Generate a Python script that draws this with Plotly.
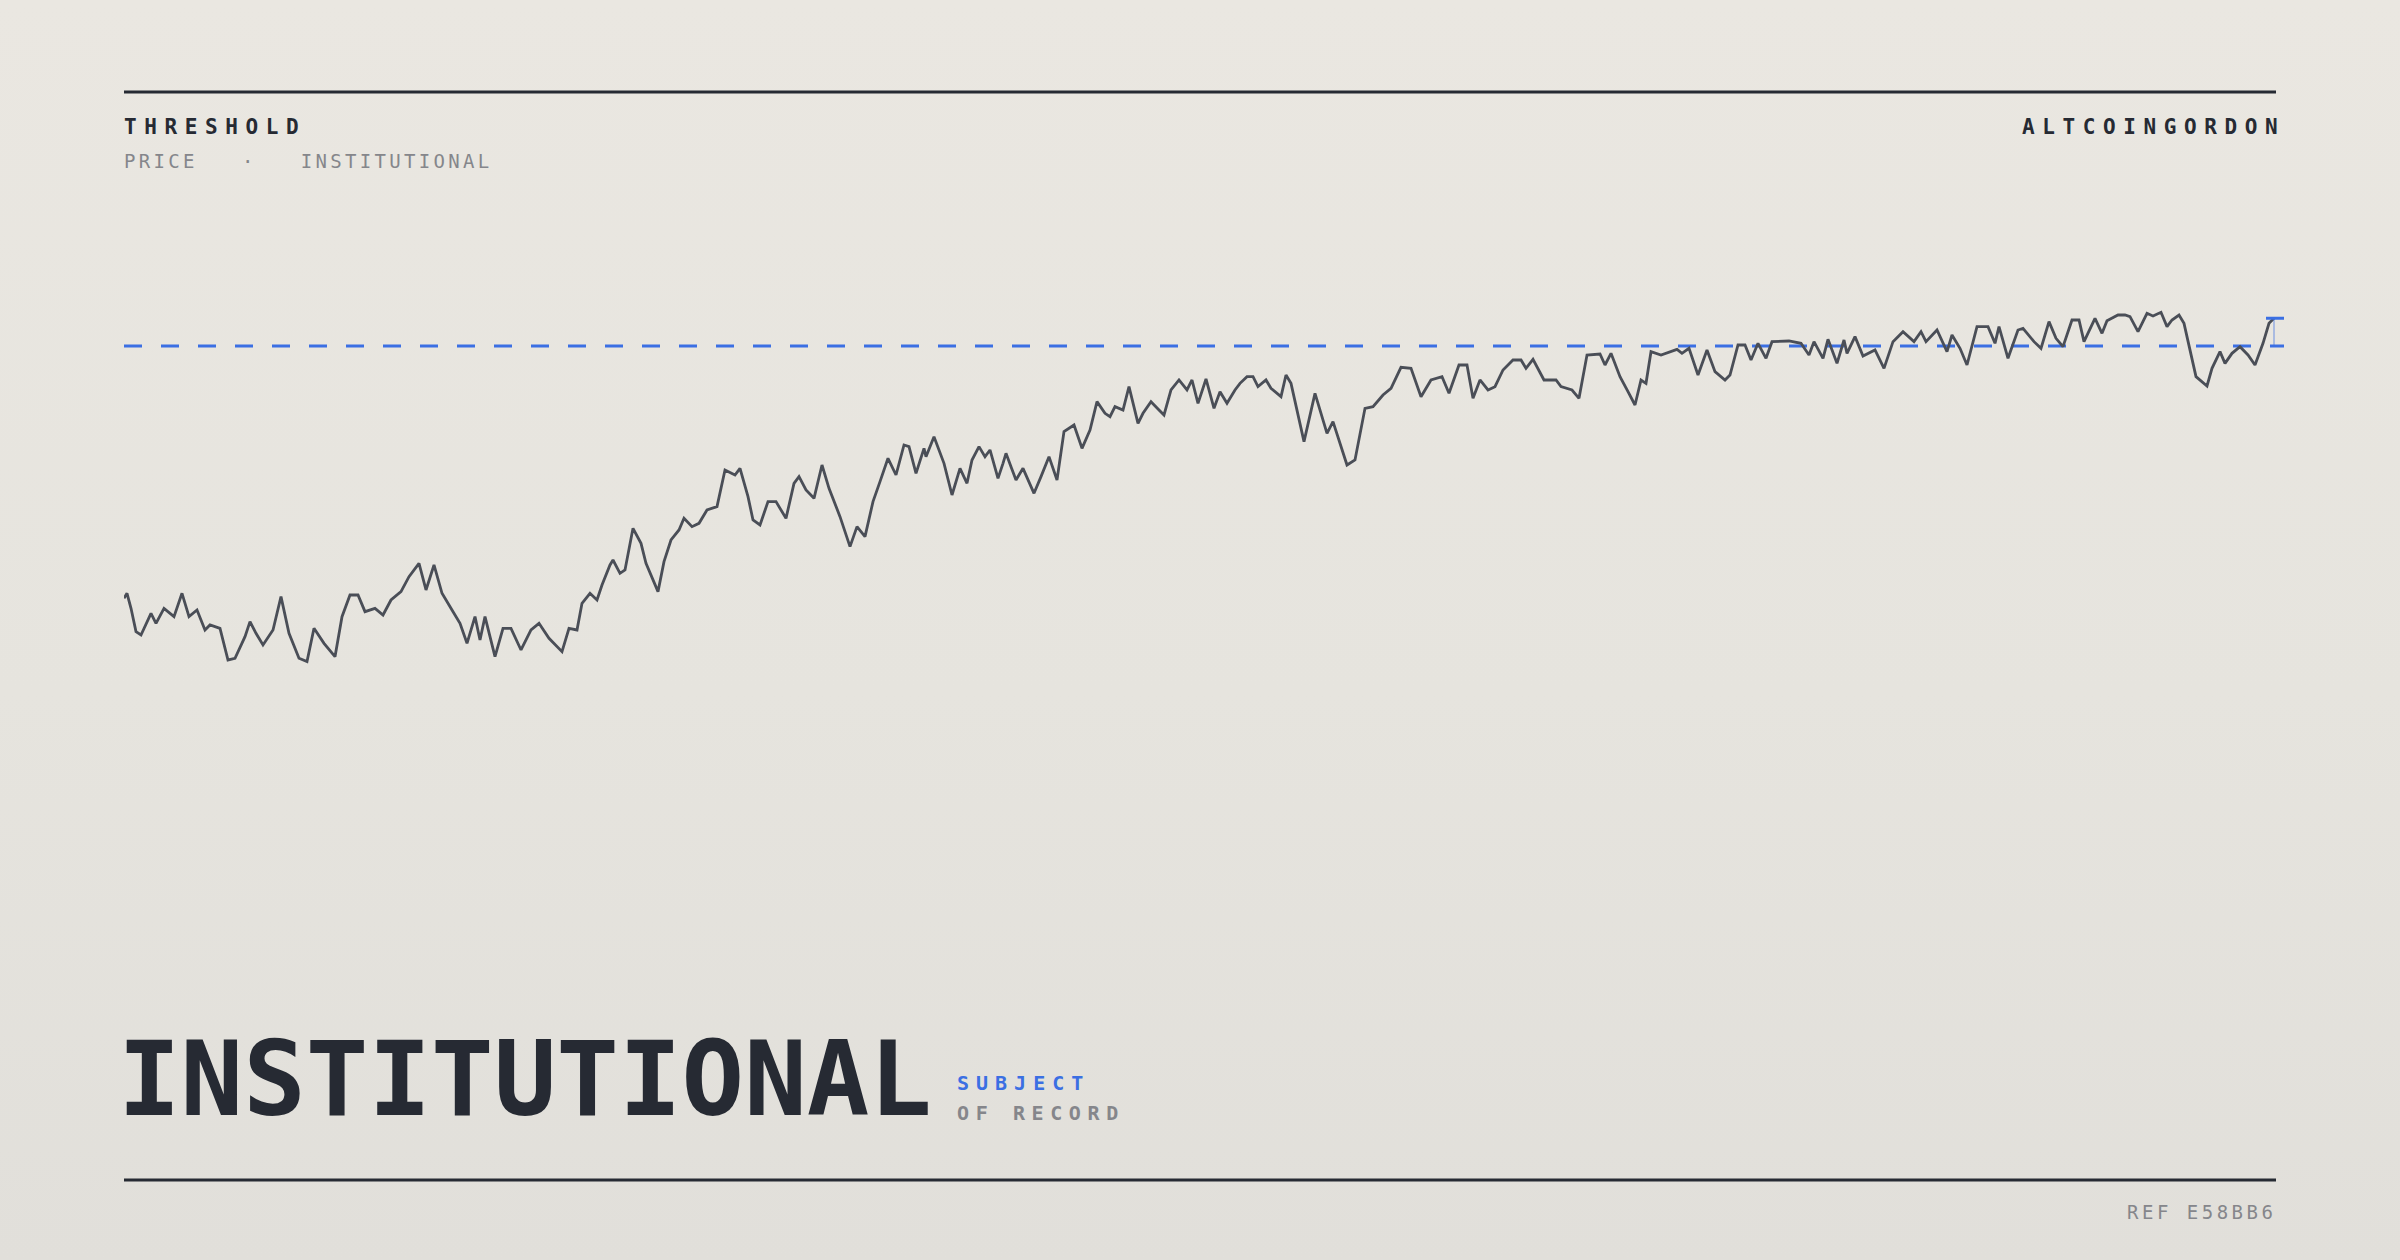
import plotly.graph_objects as go

# price path (day index, price in arbitrary units)
days = [0, 3, 7, 12, 17, 22, 27, 32, 40, 50, 58, 65, 73, 81, 86, 96, 104, 111, 121, 126,
        132, 139, 149, 157, 165, 175, 183, 190, 200, 211, 218, 226, 234, 241, 251, 259, 267, 277, 285, 295,
        302, 310, 318, 328, 336, 343, 351, 356, 361, 371, 379, 387, 397, 407, 415, 425, 438, 445, 453, 458,
        466, 473, 478, 486, 489, 496, 501, 509, 517, 522, 529, 534, 540, 547, 555, 560, 568, 575, 583, 593,
        601, 611, 616, 624, 629, 636, 644, 652, 662, 670, 675, 682, 690, 698, 705, 716, 726, 733, 741, 749,
        756, 764, 772, 780, 785, 792, 800, 802, 810, 820, 828, 836, 843, 848, 855, 861, 866, 874, 879, 882,
        887, 892, 899, 910, 917, 925, 933, 940, 950, 958, 966, 973, 981, 986, 991, 999, 1005, 1014, 1019, 1027,
        1035, 1040, 1047, 1055, 1063, 1068, 1074, 1082, 1090, 1096, 1103, 1111, 1116, 1123, 1129, 1134, 1142, 1147, 1157, 1162,
        1167, 1180, 1191, 1203, 1209, 1223, 1231, 1241, 1249, 1259, 1267, 1277, 1287, 1297, 1307, 1318, 1325, 1335, 1343, 1349,
        1356, 1364, 1371, 1379, 1389, 1397, 1402, 1409, 1420, 1432, 1437, 1448, 1455, 1463, 1476, 1481, 1487, 1496, 1504, 1511,
        1517, 1522, 1527, 1537, 1553, 1558, 1565, 1574, 1583, 1591, 1601, 1606, 1614, 1621, 1627, 1634, 1642, 1648, 1665, 1677,
        1685, 1690, 1699, 1704, 1713, 1720, 1723, 1731, 1739, 1751, 1760, 1769, 1779, 1790, 1797, 1802, 1813, 1823, 1828, 1836,
        1843, 1853, 1864, 1871, 1875, 1884, 1894, 1899, 1910, 1917, 1925, 1932, 1939, 1948, 1955, 1960, 1971, 1978, 1983, 1994,
        2001, 2006, 2014, 2023, 2029, 2037, 2043, 2048, 2055, 2060, 2072, 2083, 2088, 2096, 2101, 2108, 2116, 2124, 2131, 2139,
        2145, 2150]
price = [34.5, 36.0, 31.5, 24.5, 23.5, 26.5, 30.0, 27.0, 31.5, 29.0, 36.0, 29.0, 31.0, 25.0, 26.5, 25.5, 16.0, 16.5, 23.0, 27.5,
         24.0, 20.5, 25.0, 35.0, 24.0, 16.5, 15.5, 25.5, 21.0, 17.0, 29.0, 35.5, 35.5, 30.5, 31.5, 29.5, 34.0, 36.5, 41.0, 45.0,
         37.0, 44.5, 36.0, 31.0, 27.0, 21.0, 29.0, 22.0, 29.0, 17.0, 25.5, 25.5, 19.0, 25.0, 27.0, 22.5, 18.5, 25.5, 25.0, 33.0,
         36.0, 34.0, 38.5, 44.5, 46.0, 42.0, 43.0, 55.5, 51.0, 45.0, 40.0, 36.5, 45.5, 52.0, 55.0, 58.5, 56.0, 57.0, 61.0, 62.0,
         73.0, 71.5, 73.5, 65.0, 58.0, 56.5, 63.5, 63.5, 58.5, 69.0, 71.0, 67.0, 64.5, 74.5, 67.5, 59.0, 50.0, 56.0, 53.0, 63.5,
         69.5, 76.5, 71.5, 80.5, 80.0, 72.0, 79.5, 77.0, 83.0, 75.0, 65.5, 73.5, 69.0, 76.0, 80.0, 77.0, 79.0, 70.5, 75.0, 78.0,
         74.0, 70.0, 73.5, 66.0, 71.0, 77.0, 70.0, 84.5, 86.5, 79.5, 85.0, 93.5, 90.0, 89.0, 92.0, 91.0, 98.0, 87.0, 90.0, 93.5,
         91.0, 89.5, 97.0, 100.0, 97.0, 100.0, 93.0, 100.3, 91.5, 96.5, 93.0, 97.0, 99.0, 101.0, 101.0, 98.0, 100.0, 97.5, 95.0, 101.5,
         99.0, 81.5, 96.0, 84.0, 87.5, 74.5, 76.0, 91.5, 92.0, 95.5, 97.5, 103.8, 103.5, 95.0, 100.0, 101.0, 96.0, 104.5, 104.5, 94.5,
         100.0, 97.0, 98.0, 103.0, 106.0, 106.0, 103.5, 106.2, 100.0, 100.0, 98.0, 97.0, 94.5, 107.5, 107.8, 104.5, 108.0, 101.0, 96.5, 92.5,
         100.0, 99.0, 108.5, 107.5, 109.2, 108.0, 109.5, 101.5, 109.0, 102.5, 100.0, 101.5, 110.5, 110.5, 106.0, 111.0, 106.5, 111.5, 111.7, 111.0,
         107.5, 111.5, 106.5, 112.2, 105.0, 112.0, 108.0, 113.0, 107.2, 109.0, 103.5, 111.5, 114.5, 111.5, 114.5, 111.5, 115.0, 108.5, 113.5, 109.5,
         104.5, 116.0, 116.0, 111.0, 116.0, 106.5, 115.0, 115.5, 111.5, 109.5, 117.5, 112.5, 110.0, 118.0, 118.0, 111.5, 118.5, 114.0, 117.8, 119.5,
         119.5, 119.0, 114.5, 120.0, 119.2, 120.3, 116.0, 118.0, 119.5, 117.0, 101.0, 98.2, 103.5, 108.5, 105.0, 108.0, 110.0, 107.5, 104.5, 111.0,
         117.0, 118.5]
threshold = 110.2

W, H = 2400, 1260
INK = "#262a33"
GREY = "#85868b"
BLUE = "#3b6fe3"
MONO = "DejaVu Sans Mono"


def px(x):
    return x / W


def py(y):
    return 1 - y / H


fig = go.Figure()

fig.add_trace(go.Scatter(x=[days[0], 2160], y=[threshold, threshold], mode="lines",
                         line=dict(color=BLUE, width=3, dash="18px,19px"), hoverinfo="skip"))
fig.add_trace(go.Scatter(x=days, y=price, mode="lines",
                         line=dict(color="#4a4e57", width=2.8), hoverinfo="skip"))
# end marker: gap from threshold to last price
fig.add_trace(go.Scatter(x=[days[-1], days[-1]], y=[threshold, price[-1]], mode="lines",
                         line=dict(color=BLUE, width=1), opacity=0.7, hoverinfo="skip"))
fig.add_trace(go.Scatter(x=[days[-1] - 8, 2160], y=[price[-1], price[-1]], mode="lines",
                         line=dict(color=BLUE, width=3), hoverinfo="skip"))

shapes = [
    dict(type="line", xref="paper", yref="paper", x0=px(124), x1=px(2276), y0=py(92), y1=py(92),
         line=dict(color=INK, width=3)),
    dict(type="line", xref="paper", yref="paper", x0=px(124), x1=px(2276), y0=py(1180), y1=py(1180),
         line=dict(color=INK, width=3)),
]


def label(text, x, y, size, color, bold=False, anchor="left"):
    return dict(text=text, x=px(x), y=py(y), xref="paper", yref="paper", showarrow=False,
                xanchor=anchor, yanchor="middle", align="left",
                font=dict(family=MONO, size=size, color=color, weight="bold" if bold else "normal"))


annotations = [
    label("THRESHOLD", 122, 127, 21, INK, True),
    label("ALTCOINGORDON", 2020, 127, 21, INK, True),
    label("PRICE   ·   INSTITUTIONAL", 122, 161, 19, GREY),
    label("INSTITUTIONAL", 116, 1079, 104, INK, True),
    label("SUBJECT", 955, 1083, 20, BLUE, True),
    label("OF RECORD", 955, 1113, 20, GREY, True),
    label("REF E58BB6", 2125, 1212, 19, GREY),
]

fig.update_layout(
    width=W, height=H,
    paper_bgcolor="rgba(0,0,0,0)", plot_bgcolor="rgba(0,0,0,0)",
    margin=dict(l=0, r=0, t=0, b=0),
    showlegend=False,
    xaxis=dict(domain=[px(124), px(2284)], range=[0, 2160], visible=False),
    yaxis=dict(domain=[py(713.3), py(280)], range=[0, 130], visible=False),
    shapes=shapes,
    annotations=annotations,
)

# page background gradient + letter spacing for the small caps labels
page_js = """
document.body.style.margin = '0';
document.body.style.background = 'linear-gradient(180deg, #eae7e1 0%, #e6e4de 55%, #e1dfda 100%)';
document.body.style.minHeight = '1260px';
var sp = {'THRESHOLD': '7.6px', 'ALTCOINGORDON': '7.6px', 'SUBJECT': '7px', 'OF RECORD': '6.6px',
          'PRICE   ·   INSTITUTIONAL': '3.3px', 'REF E58BB6': '3.5px'};
document.querySelectorAll('.annotation-text').forEach(function(t) {
    var k = t.textContent;
    if (sp[k]) { t.style.letterSpacing = sp[k]; t.style.whiteSpace = 'pre'; }
});
"""

fig.write_html("out.html", post_script=page_js, config={"displayModeBar": False})
